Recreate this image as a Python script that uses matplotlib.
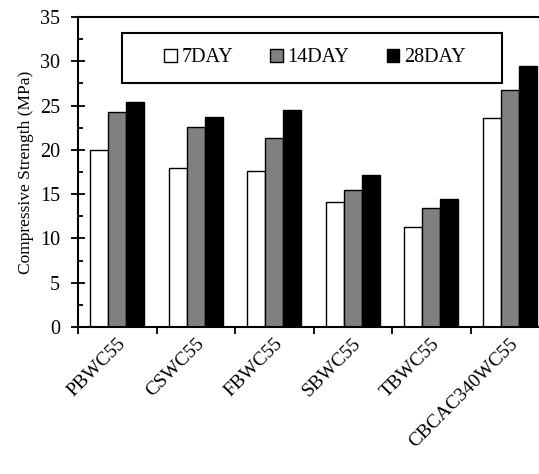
import matplotlib
matplotlib.use("Agg")
import matplotlib.pyplot as plt
import numpy as np
from matplotlib.ticker import MultipleLocator, FixedLocator
from matplotlib.patches import Rectangle

categories = ["PBWC55", "CSWC55", "FBWC55", "SBWC55", "TBWC55", "CBCAC340WC55"]
day7 = [20.0, 18.0, 17.6, 14.15, 11.3, 23.55]
day14 = [24.3, 22.6, 21.3, 15.5, 13.4, 26.75]
day28 = [25.4, 23.7, 24.5, 17.2, 14.45, 29.45]
series_labels = ["7DAY", "14DAY", "28DAY"]
colors = ["white", "#808080", "black"]

plt.rcParams['font.family'] = ['Liberation Serif', 'DejaVu Serif']

fig = plt.figure(figsize=(5.39, 4.74), dpi=100)
W, H = 539, 474
left, right, top, bottom = 78, 549, 17, 327
ax = fig.add_axes([left / W, 1 - bottom / H, (right - left) / W, (bottom - top) / H])

x = np.arange(len(categories))
bw = 0.23
for i, (vals, lab, c) in enumerate(zip([day7, day14, day28], series_labels, colors)):
    ax.bar(x + (i - 1) * bw, vals, bw, color=c, edgecolor="black", linewidth=1.0, label=lab)

ax.set_xlim(-0.5, len(categories) - 0.5)
ax.set_ylim(0, 35)
ax.yaxis.set_major_locator(MultipleLocator(5))
ax.yaxis.set_minor_locator(MultipleLocator(2.5))
ax.tick_params(axis='y', which='major', direction='inout', length=10, width=1.3, labelsize=14.5, pad=8)
ax.tick_params(axis='y', which='minor', direction='in', length=3.5, width=1.3)

ax.set_xticks(x)
ax.set_xticklabels(categories, rotation=45, ha='right', rotation_mode='anchor', fontsize=14)
ax.xaxis.set_minor_locator(FixedLocator(np.arange(-0.5, len(categories), 1.0)))
ax.tick_params(axis='x', which='major', length=0, pad=6)
ax.tick_params(axis='x', which='minor', direction='out', length=5, width=1.3)

for s in ax.spines.values():
    s.set_linewidth(1.5)

ax.set_ylabel("Compressive Strength (MPa)", fontsize=12.5, labelpad=4)

# legend box frame
ax.add_patch(Rectangle((0.0934, 0.787), 0.807, 0.161, transform=ax.transAxes,
                       facecolor='white', edgecolor='black', linewidth=1.5, zorder=4))
leg = ax.legend(loc='center', ncol=3, bbox_to_anchor=(0.503, 0.868),
                fontsize=14.5, frameon=False,
                handlelength=0.6, handleheight=0.6, handletextpad=0.25,
                columnspacing=1.85)
leg.set_zorder(5)

fig.savefig("out.png", dpi=100)
